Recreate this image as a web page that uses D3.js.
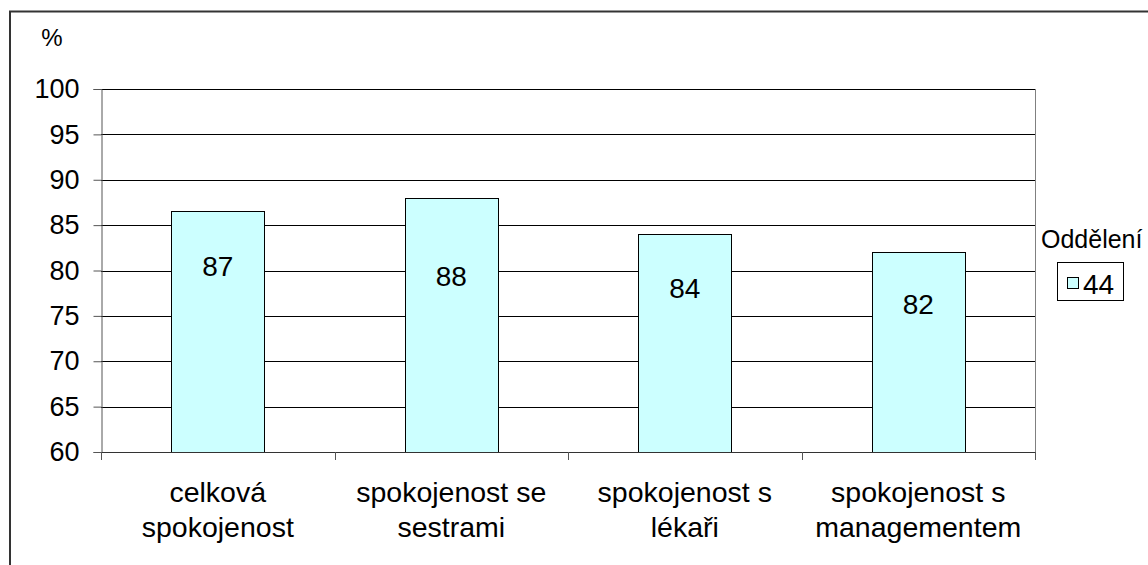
<!DOCTYPE html>
<html><head><meta charset="utf-8">
<script src="https://cdn.jsdelivr.net/npm/d3@7"></script>
<style>body{margin:0;background:#fff}svg{display:block}text{font-family:"Liberation Sans",Arial,sans-serif;fill:#000}</style>
</head><body><svg id="c" width="1148" height="565"></svg>
<script>
const categories = [["celková","spokojenost"],["spokojenost se","sestrami"],["spokojenost s","lékaři"],["spokojenost s","managementem"]];
const values = [86.6, 88.0, 84.0, 82.0];
const valueLabels = ["87","88","84","82"];
const labelAt = [79.4, 78.3, 77.0, 75.2];
const yTicks = [60,65,70,75,80,85,90,95,100];
const seriesName = "44";
const legendTitle = "Oddělení";
const yUnit = "%";

const svg = d3.select("#c");
const L = 101, R = 1035, T = 89, B = 452;
const fs = 27;

// outer frame
svg.append("path").attr("d","M10,600 V11.5 H1200").attr("fill","none").attr("stroke","#333").attr("stroke-width",2);

const x = d3.scaleBand().domain(d3.range(categories.length)).range([L,R]).paddingInner(0.6).paddingOuter(0.3);
const xb = d3.scaleBand().domain(d3.range(categories.length)).range([L,R]);
const y = d3.scaleLinear().domain([60,100]).range([B,T]);

// gridlines
svg.append("g").selectAll("line").data(yTicks).join("line")
  .attr("x1",L).attr("x2",R).attr("y1",d=>Math.round(y(d))+0.5).attr("y2",d=>Math.round(y(d))+0.5)
  .attr("stroke","#000").attr("stroke-width",1);

// right border of plot
svg.append("line").attr("x1",R+0.5).attr("x2",R+0.5).attr("y1",T).attr("y2",B+7).attr("stroke","#808080");

// bars
svg.append("g").selectAll("rect").data(values).join("rect")
  .attr("x",(d,i)=>Math.round(x(i))+0.5).attr("width",Math.round(x.bandwidth()))
  .attr("y",d=>Math.round(y(d))+0.5).attr("height",d=>Math.round(B-y(d)))
  .attr("fill","#CCFFFF").attr("stroke","#000").attr("stroke-width",1);

// value labels
svg.append("g").selectAll("text").data(values).join("text")
  .attr("x",(d,i)=>x(i)+x.bandwidth()/2).attr("y",(d,i)=>y(labelAt[i]))
  .attr("text-anchor","middle").attr("font-size",28).text((d,i)=>valueLabels[i]);

// y axis
const ya = d3.axisLeft(y).tickValues(yTicks).tickSize(8).tickPadding(14).tickFormat(d3.format("d"));
const gy = svg.append("g").attr("transform",`translate(${L+0.5},0)`).call(ya);
gy.selectAll("path,line").attr("stroke","#555");
gy.selectAll("text").attr("font-size",fs).attr("font-family","Liberation Sans, Arial, sans-serif").attr("fill","#000");

// x axis
const gx = svg.append("g");
gx.append("line").attr("x1",L).attr("x2",R+1).attr("y1",B+0.5).attr("y2",B+0.5).attr("stroke","#333");
const bounds = d3.range(categories.length+1).map(i=> i<categories.length ? xb(i) : R);
gx.selectAll("line.t").data(bounds).join("line").attr("class","t")
  .attr("x1",d=>Math.round(d)+0.5).attr("x2",d=>Math.round(d)+0.5).attr("y1",B).attr("y2",B+8).attr("stroke","#555");
const cl = gx.selectAll("text").data(categories).join("text")
  .attr("text-anchor","middle").attr("font-size",28.5)
  .attr("transform",(d,i)=>`translate(${xb(i)+xb.bandwidth()/2},502)`);
cl.selectAll("tspan").data(d=>d).join("tspan").attr("x",0).attr("dy",(d,j)=>j?35:0).text(d=>d);

// unit
svg.append("text").attr("x",52).attr("y",46).attr("text-anchor","middle").attr("font-size",24).text(yUnit);

// legend
svg.append("text").attr("x",1041).attr("y",248).attr("font-size",25).text(legendTitle);
svg.append("rect").attr("x",1057.5).attr("y",262.5).attr("width",66).attr("height",38).attr("fill","#fff").attr("stroke","#000");
svg.append("rect").attr("x",1067.5).attr("y",277.5).attr("width",11).attr("height",11).attr("fill","#CCFFFF").attr("stroke","#000");
svg.append("text").attr("x",1083).attr("y",294).attr("font-size",28).text(seriesName);
</script></body></html>
